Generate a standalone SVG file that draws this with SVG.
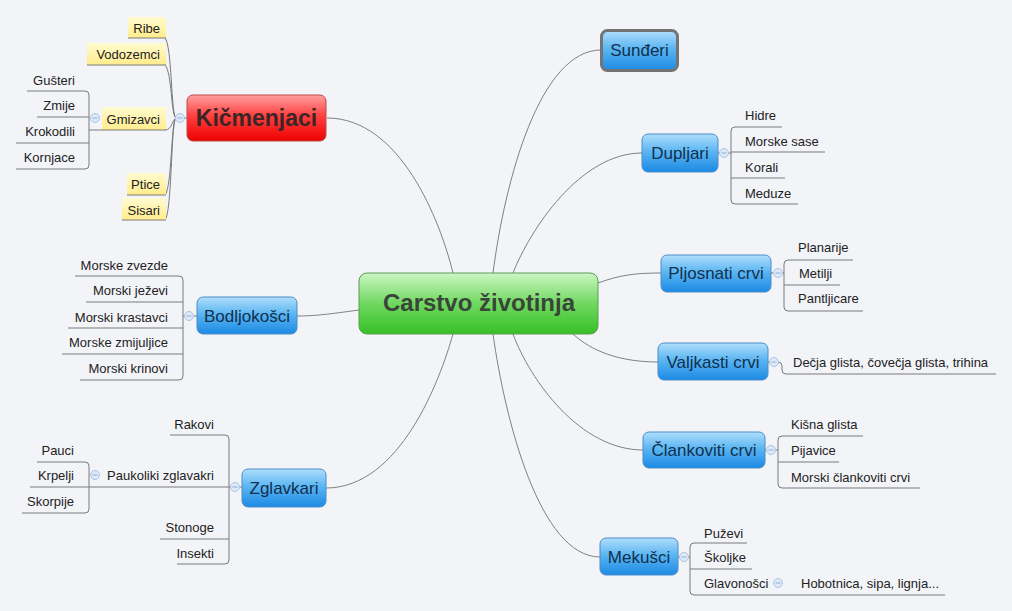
<svg xmlns="http://www.w3.org/2000/svg" width="1012" height="611" viewBox="0 0 1012 611">
<defs>
<linearGradient id="gBlue" x1="0" y1="0" x2="0" y2="1">
<stop offset="0" stop-color="#b0defc"/><stop offset="0.45" stop-color="#5cb6f2"/><stop offset="1" stop-color="#1c8ae4"/>
</linearGradient>
<linearGradient id="gRed" x1="0" y1="0" x2="0" y2="1">
<stop offset="0" stop-color="#ffa0a0"/><stop offset="0.45" stop-color="#ff4040"/><stop offset="1" stop-color="#ee0000"/>
</linearGradient>
<linearGradient id="gGreen" x1="0" y1="0" x2="0" y2="1">
<stop offset="0" stop-color="#cdf6c4"/><stop offset="0.5" stop-color="#70d860"/><stop offset="1" stop-color="#36c026"/>
</linearGradient>
<linearGradient id="gYel" x1="0" y1="0" x2="0" y2="1">
<stop offset="0" stop-color="#fffbd0"/><stop offset="1" stop-color="#ffec8c"/>
</linearGradient>
<g id="col">
<circle cx="0" cy="0" r="4.5" fill="#dde9f7" stroke="#aac4e6" stroke-width="1"/>
<line x1="-2.5" y1="0" x2="2.5" y2="0" stroke="#8fb0da" stroke-width="1"/>
</g>
</defs>
<style>
.ln{fill:none;stroke:#7a7a7a;stroke-width:1}
.cn{fill:none;stroke:#808080;stroke-width:1}
.blue{fill:url(#gBlue);stroke:#4c8cc6;stroke-width:1}
.nt{font-family:"Liberation Sans",Arial,sans-serif;font-size:17px;fill:#10304f;text-anchor:middle}
.lf{font-family:"Liberation Sans",Arial,sans-serif;font-size:13px;fill:#222}
.e{text-anchor:end}
.yb{fill:url(#gYel);stroke:none}
</style>
<rect x="0" y="0" width="1012" height="611" fill="#f3f4f8"/>

<g id="connectors">
<path class="cn" d="M327 118 C400 118 440 220 453 273"/>
<path class="cn" d="M601 50 C540 50 505 180 493 273"/>
<path class="cn" d="M642 153 C580 153 530 230 513 273"/>
<path class="cn" d="M598 283 C620 275 635 273 661 273"/>
<path class="cn" d="M573 334 C585 345 610 362 658 362"/>
<path class="cn" d="M513 334 C530 380 580 450 643 450"/>
<path class="cn" d="M493 334 C505 420 540 557 600 557"/>
<path class="cn" d="M453 334 C440 380 400 488 326 488"/>
<path class="cn" d="M359 310 C330 314 315 316 297 316"/>
</g>

<g id="central">
<rect x="359" y="273" width="239" height="61" rx="8" fill="url(#gGreen)" stroke="#5e9a54" stroke-width="1"/>
<text x="479" y="311" font-family="'Liberation Sans',Arial,sans-serif" font-size="24" font-weight="bold" fill="#3a453a" text-anchor="middle">Carstvo životinja</text>
</g>

<g id="kicmenjaci">
<rect x="187" y="95" width="139" height="46" rx="6" fill="url(#gRed)" stroke="#b84a4a" stroke-width="1"/>
<text x="256.5" y="126" font-family="'Liberation Sans',Arial,sans-serif" font-size="23" font-weight="bold" fill="#3a2626" text-anchor="middle">Kičmenjaci</text>
<line class="ln" x1="184" y1="118" x2="187" y2="118"/>
<path class="ln" d="M176 118 C171 116 172 45 165 38"/>
<path class="ln" d="M176 118 C171 116 172 72 165 65"/>
<path class="ln" d="M176 118 C172 120 172 130 165 130"/>
<path class="ln" d="M176 118 C171 120 172 188 165 195"/>
<path class="ln" d="M176 118 C171 120 172 213 165 220"/>
<use href="#col" x="180" y="118"/>
</g>

<g id="ribe"><rect class="yb" x="128" y="17" width="38" height="21"/><text class="lf e" x="160" y="33">Ribe</text><line class="ln" x1="128" y1="38" x2="166" y2="38"/></g>
<g id="vodozemci"><rect class="yb" x="87" y="43" width="79" height="22"/><text class="lf e" x="160" y="59">Vodozemci</text><line class="ln" x1="87" y1="65" x2="166" y2="65"/></g>
<g id="gmizavci"><rect class="yb" x="102" y="107" width="64" height="23"/><text class="lf e" x="160" y="124">Gmizavci</text><line class="ln" x1="89" y1="130" x2="166" y2="130"/>
<path class="ln" d="M27 91 H85 Q89 91 89 95 V165 Q89 169 85 169 H16"/>
<line class="ln" x1="37" y1="117" x2="89" y2="117"/>
<line class="ln" x1="16" y1="143" x2="89" y2="143"/>
<use href="#col" x="95" y="118"/></g>
<g id="gusteri"><text class="lf e" x="75" y="85">Gušteri</text></g>
<g id="zmije"><text class="lf e" x="75" y="110">Zmije</text></g>
<g id="krokodili"><text class="lf e" x="75" y="136">Krokodili</text></g>
<g id="kornjace"><text class="lf e" x="75" y="162">Kornjace</text></g>
<g id="ptice"><rect class="yb" x="127" y="173" width="39" height="22"/><text class="lf e" x="160" y="189">Ptice</text><line class="ln" x1="127" y1="195" x2="166" y2="195"/></g>
<g id="sisari"><rect class="yb" x="122" y="198" width="44" height="22"/><text class="lf e" x="160" y="215">Sisari</text><line class="ln" x1="122" y1="220" x2="166" y2="220"/></g>

<g id="bodljokosci">
<rect class="blue" x="197" y="297" width="100" height="37" rx="6"/>
<text class="nt" x="247" y="322">Bodljokošci</text>
<line class="ln" x1="193" y1="316" x2="197" y2="316"/>
<path class="ln" d="M75 276 H179 Q183 276 183 280 V376 Q183 380 179 380 H80"/>
<line class="ln" x1="86" y1="302" x2="183" y2="302"/>
<line class="ln" x1="68" y1="328" x2="183" y2="328"/>
<line class="ln" x1="62" y1="354" x2="183" y2="354"/>
<line class="ln" x1="183" y1="316" x2="185" y2="316"/>
<use href="#col" x="189" y="316"/>
</g>
<g id="morske-zvezde"><text class="lf e" x="168" y="270">Morske zvezde</text></g>
<g id="morski-jezevi"><text class="lf e" x="168" y="295">Morski ježevi</text></g>
<g id="morski-krastavci"><text class="lf e" x="168" y="322">Morski krastavci</text></g>
<g id="morske-zmijuljice"><text class="lf e" x="168" y="347">Morske zmijuljice</text></g>
<g id="morski-krinovi"><text class="lf e" x="168" y="373">Morski krinovi</text></g>

<g id="zglavkari">
<rect class="blue" x="242" y="469" width="84" height="38" rx="6"/>
<text class="nt" x="284" y="494">Zglavkari</text>
<line class="ln" x1="239" y1="487" x2="242" y2="487"/>
<path class="ln" d="M170 435 H225 Q229 435 229 439 V560 Q229 564 225 564 H177"/>
<line class="ln" x1="160" y1="539" x2="229" y2="539"/>
<line class="ln" x1="229" y1="487" x2="231" y2="487"/>
<use href="#col" x="235" y="487"/>
</g>
<g id="rakovi"><text class="lf e" x="214" y="429">Rakovi</text></g>
<g id="paukoliki"><text class="lf e" x="214" y="480">Paukoliki zglavakri</text>
<line class="ln" x1="30" y1="487" x2="229" y2="487"/>
<path class="ln" d="M37 462 H85 Q89 462 89 466 V509 Q89 513 85 513 H22"/>
<use href="#col" x="95" y="475"/></g>
<g id="pauci"><text class="lf e" x="74" y="455">Pauci</text></g>
<g id="krpelji"><text class="lf e" x="74" y="480">Krpelji</text></g>
<g id="skorpije"><text class="lf e" x="74" y="506">Skorpije</text></g>
<g id="stonoge"><text class="lf e" x="214" y="532">Stonoge</text></g>
<g id="insekti"><text class="lf e" x="214" y="558">Insekti</text></g>

<g id="sunderi">
<rect x="601.5" y="30.5" width="76" height="40" rx="6" fill="url(#gBlue)" stroke="#747474" stroke-width="3"/>
<text class="nt" x="639.5" y="56">Sunđeri</text>
</g>

<g id="dupljari">
<rect class="blue" x="642" y="134" width="76" height="38" rx="6"/>
<text class="nt" x="680" y="159">Dupljari</text>
<line class="ln" x1="718" y1="153" x2="720" y2="153"/>
<path class="ln" d="M782 127 H735 Q731 127 731 131 V200 Q731 204 735 204 H798"/>
<line class="ln" x1="731" y1="152" x2="825" y2="152"/>
<line class="ln" x1="731" y1="178" x2="785" y2="178"/>
<line class="ln" x1="728" y1="153" x2="731" y2="153"/>
<use href="#col" x="724" y="153"/>
</g>
<g id="hidre"><text class="lf" x="745" y="120">Hidre</text></g>
<g id="morske-sase"><text class="lf" x="745" y="146">Morske sase</text></g>
<g id="korali"><text class="lf" x="745" y="172">Korali</text></g>
<g id="meduze"><text class="lf" x="745" y="198">Meduze</text></g>

<g id="pljosnati">
<rect class="blue" x="661" y="255" width="110" height="37" rx="6"/>
<text class="nt" x="716" y="279">Pljosnati crvi</text>
<line class="ln" x1="771" y1="273" x2="774" y2="273"/>
<path class="ln" d="M853 260 H788 Q784 260 784 264 V307 Q784 311 788 311 H863"/>
<line class="ln" x1="784" y1="285" x2="840" y2="285"/>
<line class="ln" x1="782" y1="273" x2="784" y2="273"/>
<use href="#col" x="778" y="273"/>
</g>
<g id="planarije"><text class="lf" x="798" y="252">Planarije</text></g>
<g id="metilji"><text class="lf" x="799" y="278">Metilji</text></g>
<g id="pantljicare"><text class="lf" x="798" y="303">Pantljicare</text></g>

<g id="valjkasti">
<rect class="blue" x="658" y="343" width="110" height="37" rx="6"/>
<text class="nt" x="713" y="368">Valjkasti crvi</text>
<line class="ln" x1="768" y1="362" x2="770" y2="362"/>
<path class="ln" d="M778 362 Q782 362 782 366 V370 Q782 374 786 374 H996"/>
<use href="#col" x="774" y="362"/>
</g>
<g id="decja-glista"><text class="lf" x="793" y="367">Dečja glista, čovečja glista, trihina</text></g>

<g id="clankoviti">
<rect class="blue" x="643" y="432" width="122" height="36" rx="6"/>
<text class="nt" x="704" y="456">Člankoviti crvi</text>
<line class="ln" x1="765" y1="450" x2="767" y2="450"/>
<path class="ln" d="M863 436 H782 Q778 436 778 440 V484 Q778 488 782 488 H920"/>
<line class="ln" x1="778" y1="462" x2="839" y2="462"/>
<line class="ln" x1="775" y1="450" x2="778" y2="450"/>
<use href="#col" x="771" y="450"/>
</g>
<g id="kisna-glista"><text class="lf" x="791" y="429">Kišna glista</text></g>
<g id="pijavice"><text class="lf" x="791" y="455">Pijavice</text></g>
<g id="morski-clankoviti"><text class="lf" x="791" y="482">Morski člankoviti crvi</text></g>

<g id="mekusci">
<rect class="blue" x="600" y="538" width="78" height="37" rx="6"/>
<text class="nt" x="639" y="563">Mekušci</text>
<line class="ln" x1="678" y1="557" x2="680" y2="557"/>
<path class="ln" d="M747 543 H694 Q690 543 690 547 V591 Q690 595 694 595 H945"/>
<line class="ln" x1="690" y1="569" x2="752" y2="569"/>
<line class="ln" x1="688" y1="557" x2="690" y2="557"/>
<use href="#col" x="684" y="557"/>
</g>
<g id="puzevi"><text class="lf" x="704" y="538">Puževi</text></g>
<g id="skoljke"><text class="lf" x="704" y="562">Školjke</text></g>
<g id="glavonosci"><text class="lf" x="704" y="588">Glavonošci</text><use href="#col" x="778" y="583"/></g>
<g id="hobotnica"><text class="lf" x="801" y="588">Hobotnica, sipa, lignja...</text></g>
</svg>
